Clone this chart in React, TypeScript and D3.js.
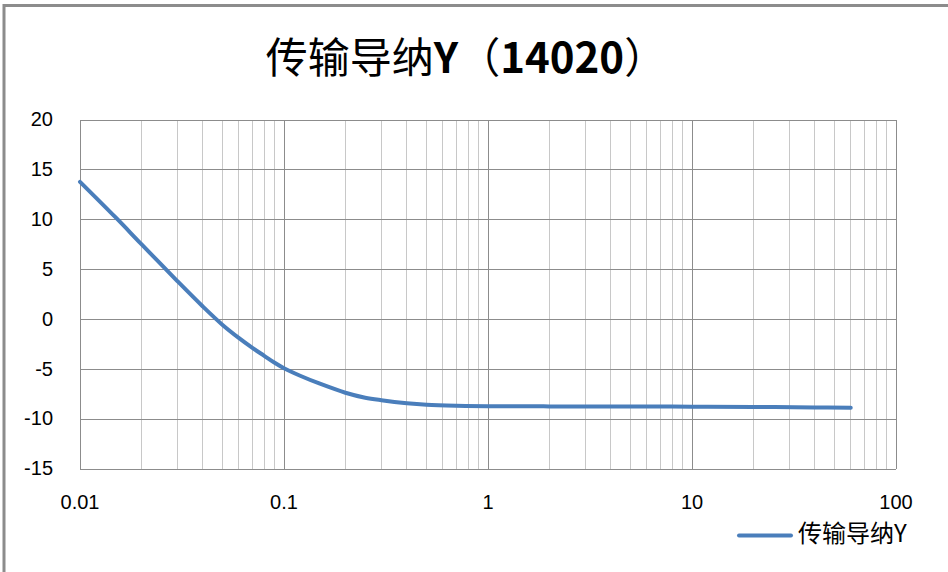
import React from "react";
import * as d3 from "d3";

const titleMain = "传输导纳Y";
const titleNum = "14020";
const seriesName = "传输导纳Y";

const xValues = [0.01, 0.015, 0.02, 0.03, 0.04, 0.05, 0.06, 0.07, 0.08, 0.09, 0.1, 0.12, 0.15, 0.2, 0.25, 0.3, 0.4, 0.5, 0.7, 1, 2, 5, 10, 20, 40, 60];
const yValues = [13.8, 10.2, 7.55, 3.85, 1.3, -0.55, -1.85, -2.85, -3.65, -4.35, -4.9, -5.65, -6.45, -7.35, -7.85, -8.1, -8.4, -8.55, -8.65, -8.7, -8.72, -8.73, -8.75, -8.77, -8.82, -8.85];

const yTicks = [20, 15, 10, 5, 0, -5, -10, -15];
const xDecades = [0.01, 0.1, 1, 10, 100];
const xTickLabels = ["0.01", "0.1", "1", "10", "100"];

const W = 948;
const H = 572;
const plot = { left: 80, right: 896, top: 120, bottom: 469 };

export default function App() {
  const x = d3.scaleLog().domain([0.01, 100]).range([plot.left, plot.right]);
  const y = d3.scaleLinear().domain([-15, 20]).range([plot.bottom, plot.top]);

  const minor: number[] = [];
  for (let k = 0; k < xDecades.length - 1; k++) {
    for (let m = 2; m <= 9; m++) minor.push(xDecades[k] * m);
  }

  const data = xValues.map((v, i) => [v, yValues[i]] as [number, number]);
  const line = d3
    .line<[number, number]>()
    .x((d) => x(d[0]))
    .y((d) => y(d[1]))
    .curve(d3.curveCatmullRom.alpha(0.5));

  const cjk = "'Noto Sans CJK SC', 'Noto Sans', sans-serif";
  const lat = "'Liberation Sans', Arial, sans-serif";

  return (
    <svg
      width={W}
      height={H}
      style={{ position: "absolute", left: 0, top: 0, display: "block", background: "#fff" }}
    >
      <rect x={0} y={0} width={W} height={H} fill="#fff" />
      <rect x={4} y={5.5} width={1100} height={1100} fill="none" stroke="#8c8c8c" strokeWidth={3} />

      <text x={466} y={62} textAnchor="middle" dominantBaseline="middle" fontFamily={cjk} fontSize={42} fill="#000">
        <tspan>{titleMain.slice(0, 4)}</tspan>
        <tspan fontWeight="bold">{titleMain.slice(4)}</tspan>
        <tspan>（</tspan>
        <tspan fontWeight="bold">{titleNum}</tspan>
        <tspan>）</tspan>
      </text>

      {minor.map((v) => (
        <line key={"mn" + v} x1={x(v)} x2={x(v)} y1={plot.top} y2={plot.bottom} stroke="#c8c8c8" strokeWidth={1} shapeRendering="crispEdges" />
      ))}
      {xDecades.map((v) => (
        <line key={"mj" + v} x1={x(v)} x2={x(v)} y1={plot.top} y2={plot.bottom} stroke="#8c8c8c" strokeWidth={1} shapeRendering="crispEdges" />
      ))}
      {yTicks.map((v) => (
        <line key={"h" + v} x1={plot.left} x2={plot.right} y1={y(v)} y2={y(v)} stroke="#8c8c8c" strokeWidth={1} shapeRendering="crispEdges" />
      ))}

      {yTicks.map((v) => (
        <text key={"yl" + v} x={53} y={y(v) + 1} textAnchor="end" dominantBaseline="middle" fontFamily={lat} fontSize={20} fill="#000">
          {v}
        </text>
      ))}
      {xDecades.map((v, i) => (
        <text key={"xl" + v} x={x(v)} y={504} textAnchor="middle" dominantBaseline="middle" fontFamily={lat} fontSize={20} fill="#000">
          {xTickLabels[i]}
        </text>
      ))}

      <path d={line(data) || ""} fill="none" stroke="#4a7ebb" strokeWidth={4} strokeLinejoin="round" strokeLinecap="round" />

      <line x1={739} x2={791} y1={535.5} y2={535.5} stroke="#4a7ebb" strokeWidth={4} strokeLinecap="round" />
      <text x={798} y={535} dominantBaseline="middle" fontFamily={cjk} fontSize={24} fill="#000">
        {seriesName}
      </text>
    </svg>
  );
}
